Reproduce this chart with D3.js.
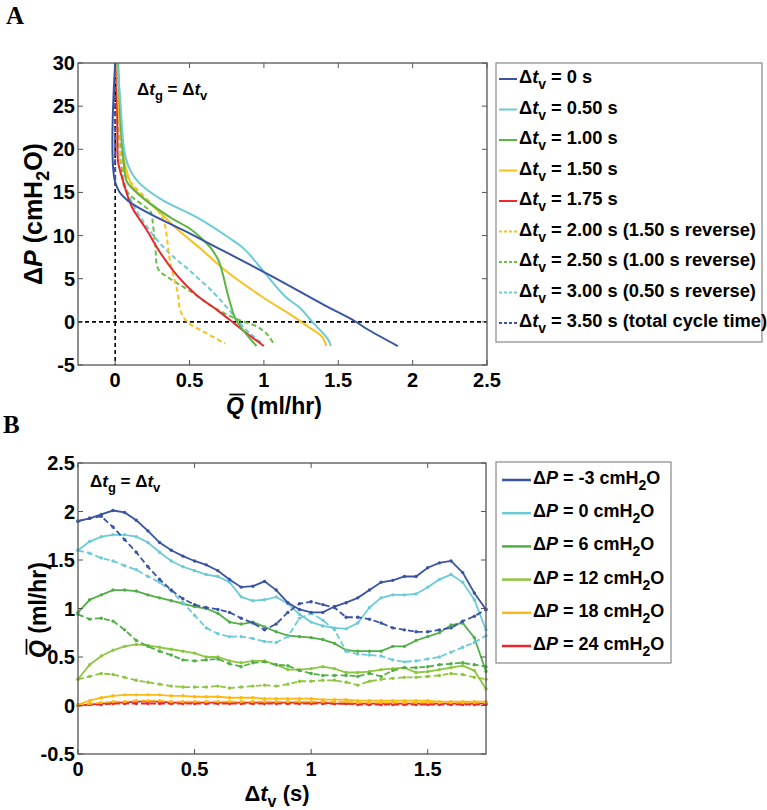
<!DOCTYPE html>
<html><head><meta charset="utf-8">
<script src="https://cdn.jsdelivr.net/npm/d3@7"></script>
<style>body{margin:0;background:#fff}svg{display:block}text{font-family:Arial,"Liberation Sans",sans-serif}</style>
</head><body>
<svg id="c" width="767" height="810"></svg>
<script>
// ---------- Panel A data (ΔP in cmH2O vs Q in ml/hr) ----------
const aLabels = ["0 s","0.50 s","1.00 s","1.50 s","1.75 s","2.00 s (1.50 s reverse)","2.50 s (1.00 s reverse)","3.00 s (0.50 s reverse)","3.50 s (total cycle time)"];
const aColors = ["#3a54a4","#6ccbd6","#5cb446","#f7c21f","#e8282b","#f7c21f","#6cbd45","#6ccbd6","#3a54a4"];
const aDashed = [false,false,false,false,false,true,true,true,true];
const aP0 = [30,16.2,14.2,10,5.5,2,0.1,-0.8,-2.8];
const aQ0 = [0,0,0.074,0.53,1.03,1.4,1.61,1.69,1.9];
const aP1 = [30,25.7,20,18,16.2,14.2,12.1,9.8,8.4,5.8,3.0,1.5,0.1,-2.0,-2.8];
const aQ1 = [0.014,0.034,0.06,0.09,0.156,0.31,0.55,0.76,0.87,1.0,1.14,1.25,1.32,1.43,1.45];
const aP2 = [30,22,18,16.2,14.6,12.1,10.7,9.0,8.4,6.9,3.0,0.3,-1.6,-2.8];
const aQ2 = [0.02,0.04,0.06,0.08,0.17,0.37,0.51,0.62,0.65,0.70,0.76,0.81,0.89,0.95];
const aP3 = [30,23,18,15.6,12.7,10.7,8.4,6.1,3.0,0.6,-0.6,-1.7,-2.8];
const aQ3 = [0.014,0.03,0.07,0.12,0.3,0.42,0.58,0.73,0.98,1.2,1.3,1.39,1.42];
const aP4 = [30,22,18.5,16.5,13.4,10.7,8.1,5.3,3.2,1.3,0.1,-1.4,-2.8];
const aQ4 = [0.01,0.015,0.02,0.05,0.11,0.21,0.30,0.42,0.54,0.69,0.78,0.89,1.0];
const aP5 = [30,22,18,16.5,12.8,11.5,6.9,3.4,1.2,0,-1.2,-2.5];
const aQ5 = [0.01,0.02,0.05,0.09,0.29,0.33,0.37,0.42,0.44,0.485,0.6,0.74];
const aP6 = [30,22,18,15.3,12.7,11.9,8.7,6.1,5.0,3.5,1.7,0.3,-0.6,-1.6,-2.7];
const aQ6 = [0.015,0.03,0.045,0.07,0.24,0.25,0.27,0.29,0.37,0.51,0.66,0.82,0.96,1.03,1.07];
const aP7 = [30,22,18,16.5,13.8,11.1,8.2,5.8,3.4,1.5,0,-1.4,-2.5];
const aQ7 = [0.01,0.02,0.04,0.055,0.115,0.21,0.35,0.51,0.66,0.76,0.83,0.91,0.99];
const aP8 = [30,22,16];
const aQ8 = [0,0,0];
const aXTicks = [0,0.5,1,1.5,2,2.5];
const aYTicks = [30,25,20,15,10,5,0,-5];

// ---------- Panel B data (Q in ml/hr vs Δt_v in s) ----------
const bT = [0,0.05,0.1,0.15,0.2,0.25,0.3,0.35,0.4,0.45,0.5,0.55,0.6,0.65,0.7,0.75,0.8,0.85,0.9,0.95,1.0,1.05,1.1,1.15,1.2,1.25,1.3,1.35,1.4,1.45,1.5,1.55,1.6,1.65,1.7,1.75];
const bLabels = ["-3","0","6","12","18","24"];
const bColors = ["#3a54a4","#6ccbd6","#52ae47","#8dc63f","#fbb915","#e8282b"];
const bM3 = [1.90,1.93,1.97,2.01,1.99,1.91,1.80,1.68,1.60,1.54,1.49,1.45,1.39,1.30,1.22,1.23,1.28,1.19,1.06,0.99,0.96,0.96,1.02,1.06,1.11,1.19,1.27,1.29,1.33,1.33,1.42,1.47,1.49,1.37,1.16,0.99];
const bM3r = [1.90,1.93,1.95,1.84,1.71,1.58,1.43,1.30,1.19,1.10,1.04,1.01,0.99,0.96,0.90,0.85,0.78,0.84,0.96,1.05,1.07,1.04,1.01,0.91,0.91,0.89,0.85,0.80,0.78,0.76,0.76,0.78,0.80,0.87,0.92,0.99];
const b0 = [1.60,1.69,1.74,1.76,1.76,1.74,1.68,1.58,1.49,1.43,1.39,1.35,1.33,1.27,1.12,1.08,1.09,1.12,1.05,0.94,0.86,0.82,0.80,0.79,0.85,1.01,1.11,1.14,1.14,1.15,1.22,1.30,1.35,1.27,1.09,0.78];
const b0r = [1.60,1.57,1.52,1.49,1.44,1.40,1.33,1.27,1.18,1.06,0.93,0.80,0.74,0.71,0.71,0.69,0.66,0.65,0.71,0.90,0.95,0.88,0.78,0.56,0.53,0.52,0.51,0.47,0.45,0.46,0.48,0.50,0.55,0.60,0.65,0.72];
const b6 = [0.96,1.09,1.14,1.19,1.19,1.18,1.14,1.11,1.08,1.05,1.02,1.00,0.95,0.86,0.84,0.86,0.81,0.76,0.72,0.71,0.70,0.68,0.64,0.57,0.56,0.56,0.56,0.61,0.61,0.67,0.71,0.75,0.83,0.85,0.70,0.35];
const b6r = [0.94,0.89,0.90,0.87,0.78,0.67,0.61,0.56,0.52,0.47,0.46,0.47,0.48,0.43,0.40,0.44,0.45,0.42,0.41,0.36,0.33,0.31,0.31,0.31,0.30,0.33,0.30,0.36,0.39,0.39,0.40,0.42,0.43,0.44,0.42,0.40];
const b12 = [0.27,0.42,0.51,0.57,0.61,0.63,0.62,0.60,0.58,0.56,0.54,0.50,0.50,0.46,0.44,0.46,0.46,0.42,0.37,0.37,0.38,0.40,0.38,0.34,0.34,0.35,0.37,0.38,0.39,0.34,0.35,0.37,0.39,0.41,0.36,0.17];
const b12r = [0.27,0.30,0.33,0.32,0.29,0.26,0.24,0.22,0.20,0.19,0.19,0.19,0.20,0.18,0.19,0.20,0.21,0.20,0.22,0.25,0.25,0.26,0.26,0.24,0.21,0.25,0.27,0.28,0.29,0.29,0.30,0.31,0.33,0.32,0.29,0.27];
const b18 = [0.01,0.05,0.08,0.10,0.11,0.11,0.11,0.11,0.10,0.10,0.09,0.09,0.09,0.08,0.08,0.08,0.07,0.07,0.07,0.07,0.07,0.06,0.06,0.06,0.05,0.05,0.05,0.05,0.05,0.05,0.05,0.04,0.04,0.04,0.04,0.04];
const b18r = [0.00,0.02,0.03,0.04,0.04,0.05,0.05,0.05,0.04,0.04,0.04,0.04,0.04,0.04,0.04,0.04,0.04,0.04,0.04,0.04,0.04,0.04,0.04,0.04,0.03,0.03,0.03,0.03,0.03,0.03,0.03,0.03,0.03,0.03,0.03,0.03];
const b24 = [0.00,0.01,0.02,0.03,0.03,0.04,0.04,0.04,0.03,0.03,0.03,0.03,0.03,0.03,0.03,0.03,0.03,0.03,0.03,0.03,0.03,0.03,0.02,0.02,0.02,0.02,0.02,0.02,0.02,0.02,0.02,0.02,0.02,0.02,0.02,0.02];
const b24r = [0.00,0.01,0.01,0.02,0.02,0.02,0.02,0.02,0.02,0.02,0.02,0.02,0.02,0.02,0.02,0.02,0.02,0.02,0.02,0.02,0.02,0.02,0.02,0.02,0.01,0.01,0.01,0.01,0.01,0.01,0.01,0.01,0.01,0.01,0.01,0.01];
const bXTicks = [0,0.5,1,1.5];
const bYTicks = [2.5,2,1.5,1,0.5,0,-0.5];

// ---------- drawing ----------
const svg = d3.select("#c");
const FRAME = "#555";

function frame(g, x, y, xt, yt, fmt) {
  const [x0,x1] = x.range(), [y0,y1] = y.range();
  xt.forEach(v => {
    g.append("line").attr("x1",x(v)).attr("x2",x(v)).attr("y1",y0).attr("y2",y0-5).attr("stroke",FRAME);
    g.append("line").attr("x1",x(v)).attr("x2",x(v)).attr("y1",y1).attr("y2",y1+5).attr("stroke",FRAME);
  });
  yt.forEach(v => {
    g.append("line").attr("x1",x0).attr("x2",x0+5).attr("y1",y(v)).attr("y2",y(v)).attr("stroke",FRAME);
    g.append("line").attr("x1",x1).attr("x2",x1-5).attr("y1",y(v)).attr("y2",y(v)).attr("stroke",FRAME);
  });
  g.append("rect").attr("x",x0).attr("y",y1).attr("width",x1-x0).attr("height",y0-y1)
    .attr("fill","none").attr("stroke",FRAME).attr("stroke-width",1.3);
  g.selectAll(".xl").data(xt).enter().append("text").attr("x",d=>x(d)).attr("y",y0+22)
    .attr("text-anchor","middle").attr("font-size",20).attr("font-weight","bold").text(fmt);
  g.selectAll(".yl").data(yt).enter().append("text").attr("x",x0-3).attr("y",d=>y(d)+7)
    .attr("text-anchor","end").attr("font-size",20).attr("font-weight","bold").text(fmt);
}
const fmt = d => String(d);

function qTitle(cx, cy, rot, fs) {
  const g = svg.append("g").attr("transform",`translate(${cx},${cy}) rotate(${rot})`);
  const t = g.append("text").attr("font-size",fs).attr("font-weight","bold");
  t.append("tspan").attr("font-style","italic").text("Q");
  t.append("tspan").text(" (ml/hr)");
  const w = t.node().getComputedTextLength();
  const qw = t.node().getSubStringLength(0,1);
  t.attr("x",-w/2).attr("y",fs*0.36);
  g.append("line").attr("x1",-w/2+fs*0.14).attr("x2",-w/2+qw+fs*0.05)
    .attr("y1",-fs*0.5).attr("y2",-fs*0.5).attr("stroke","#000").attr("stroke-width",fs*0.075);
}

function dtAnnot(x, y) {
  const t = svg.append("text").attr("x",x).attr("y",y).attr("font-size",17).attr("font-weight","bold");
  t.append("tspan").text("Δ");
  t.append("tspan").attr("font-style","italic").text("t");
  t.append("tspan").attr("dy",5).attr("font-size",13).text("g");
  t.append("tspan").attr("dy",-5).text(" = Δ");
  t.append("tspan").attr("font-style","italic").text("t");
  t.append("tspan").attr("dy",5).attr("font-size",13).text("v");
}

// Panel letters
svg.append("text").attr("x",6).attr("y",24).style("font-family","'Liberation Serif','Times New Roman',serif")
  .attr("font-size",25).attr("font-weight","bold").text("A");
svg.append("text").attr("x",3).attr("y",433).style("font-family","'Liberation Serif','Times New Roman',serif")
  .attr("font-size",25).attr("font-weight","bold").text("B");

// ===== Panel A =====
const xA = d3.scaleLinear().domain([-0.25,2.5]).range([78,487]);
const yA = d3.scaleLinear().domain([-5,30]).range([365,63]);
const gA = svg.append("g");
gA.append("line").attr("x1",xA(-0.25)).attr("x2",xA(2.5)).attr("y1",yA(0)).attr("y2",yA(0))
  .attr("stroke","#000").attr("stroke-width",1.6).attr("stroke-dasharray","4,3");
gA.append("line").attr("x1",xA(0)).attr("x2",xA(0)).attr("y1",yA(30)).attr("y2",yA(-5))
  .attr("stroke","#000").attr("stroke-width",1.6).attr("stroke-dasharray","4,3");

const aP = [aP0,aP1,aP2,aP3,aP4,aP5,aP6,aP7,aP8];
const aQ = [aQ0,aQ1,aQ2,aQ3,aQ4,aQ5,aQ6,aQ7,aQ8];
const lineA = d3.line().x(d=>xA(d[0])).y(d=>yA(d[1])).curve(d3.curveCatmullRom.alpha(0.5));
[8,7,6,5,4,3,2,1,0].forEach(i => {
  const pts = aQ[i].map((q,k)=>[q,aP[i][k]]);
  gA.append("path").attr("d",lineA(pts)).attr("fill","none").attr("stroke",aColors[i])
    .attr("stroke-width",2).attr("stroke-dasharray",aDashed[i]?"5,3":null);
});
frame(gA, xA, yA, aXTicks, aYTicks, fmt);
dtAnnot(137, 95);

// A y title
{
  const g = svg.append("g").attr("transform","translate(42,214) rotate(-90)");
  const t = g.append("text").attr("font-size",25).attr("font-weight","bold").attr("text-anchor","middle");
  t.append("tspan").text("Δ");
  t.append("tspan").attr("font-style","italic").text("P");
  t.append("tspan").text(" (cmH");
  t.append("tspan").attr("dy",7).attr("font-size",18).text("2");
  t.append("tspan").attr("dy",-7).text("O)");
}
qTitle(274, 406, 0, 23);

// A legend
const legA = svg.append("g");
legA.append("rect").attr("x",496).attr("y",63).attr("width",266).attr("height",279)
  .attr("fill","#fff").attr("stroke","#888").attr("stroke-width",1.2);
aLabels.forEach((lab,i) => {
  const by = 83 + 30.5*i;
  legA.append("line").attr("x1",499).attr("x2",517).attr("y1",by-4).attr("y2",by-4)
    .attr("stroke",aColors[i]).attr("stroke-width",2).attr("stroke-dasharray",aDashed[i]?"3,2":null);
  const t = legA.append("text").attr("x",519).attr("y",by).attr("font-size",18.3).attr("font-weight","bold");
  t.append("tspan").text("Δ");
  t.append("tspan").attr("font-style","italic").text("t");
  t.append("tspan").attr("dy",6).attr("font-size",14).text("v");
  t.append("tspan").attr("dy",-6).text(" = " + lab);
});

// ===== Panel B =====
const xB = d3.scaleLinear().domain([0,1.75]).range([78,486]);
const yB = d3.scaleLinear().domain([-0.5,2.5]).range([754,463]);
const gB = svg.append("g");
const bSolid = [bM3,b0,b6,b12,b18,b24];
const bRev = [bM3r,b0r,b6r,b12r,b18r,b24r];
const lineB = d3.line().x((d,k)=>xB(bT[k])).y(d=>yB(d));
[5,4,3,2,1,0].forEach(i => {
  [bRev[i], bSolid[i]].forEach((vals,j) => {
    gB.append("path").attr("d",lineB(vals)).attr("fill","none").attr("stroke",bColors[i])
      .attr("stroke-width",1.8).attr("stroke-dasharray",j===0?"6,3":null);
    gB.selectAll(null).data(vals).enter().append("circle")
      .attr("cx",(d,k)=>xB(bT[k])).attr("cy",d=>yB(d)).attr("r",1.7).attr("fill",bColors[i]);
  });
});
frame(gB, xB, yB, bXTicks, bYTicks, fmt);
dtAnnot(90, 487);

qTitle(38, 610, -90, 23);
{
  const t = svg.append("text").attr("x",277).attr("y",801).attr("font-size",22).attr("font-weight","bold").attr("text-anchor","middle");
  t.append("tspan").text("Δ");
  t.append("tspan").attr("font-style","italic").text("t");
  t.append("tspan").attr("dy",6).attr("font-size",16).text("v");
  t.append("tspan").attr("dy",-6).text(" (s)");
}

// B legend
const legB = svg.append("g");
legB.append("rect").attr("x",496).attr("y",462).attr("width",175).attr("height",201)
  .attr("fill","#fff").attr("stroke","#888").attr("stroke-width",1.2);
bLabels.forEach((lab,i) => {
  const by = 484 + 33.2*i;
  legB.append("line").attr("x1",502).attr("x2",531).attr("y1",by-4).attr("y2",by-4)
    .attr("stroke",bColors[i]).attr("stroke-width",2.5);
  const t = legB.append("text").attr("x",533).attr("y",by).attr("font-size",18).attr("font-weight","bold");
  t.append("tspan").text("Δ");
  t.append("tspan").attr("font-style","italic").text("P");
  t.append("tspan").text(" = " + lab + " cmH");
  t.append("tspan").attr("dy",6).attr("font-size",14).text("2");
  t.append("tspan").attr("dy",-6).text("O");
});
</script>
</body></html>
